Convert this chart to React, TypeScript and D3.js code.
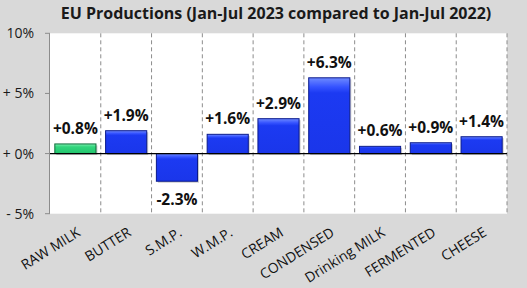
import React from "react";
import * as d3 from "d3";

const categories = ["RAW MILK", "BUTTER", "S.M.P.", "W.M.P.", "CREAM", "CONDENSED", "Drinking MILK", "FERMENTED", "CHEESE"];
const values = [0.8, 1.9, -2.3, 1.6, 2.9, 6.3, 0.6, 0.9, 1.4];
const valueLabels = ["+0.8%", "+1.9%", "-2.3%", "+1.6%", "+2.9%", "+6.3%", "+0.6%", "+0.9%", "+1.4%"];
const yTicks = [-5, 0, 5, 10];
const yTickLabels = ["- 5%", "+ 0%", "+ 5%", "10%"];
const title = "EU Productions (Jan-Jul 2023 compared to Jan-Jul 2022)";

const W = 527, H = 288;
const left = 50, right = 507, top = 33.3, bottom = 213.7;
const FONT = "'Open Sans', sans-serif";

export default function App() {
  const x = d3.scaleBand<string>().domain(categories).range([left, right]).paddingInner(0.19).paddingOuter(0.095);
  const xb = d3.scaleBand<string>().domain(categories).range([left, right]);
  const y = d3.scaleLinear().domain([-5, 10]).range([bottom, top]);
  return (
    <svg width={W} height={H} style={{ position: "absolute", left: 0, top: 0 }} fontFamily={FONT}>
      <defs>
        <linearGradient id="gBlue" x1="0" y1="0" x2="0" y2="1">
          <stop offset="0" stopColor="#6f8bff" />
          <stop offset="0.12" stopColor="#3553ff" />
          <stop offset="0.2" stopColor="#1c3af2" />
          <stop offset="1" stopColor="#1a36ea" />
        </linearGradient>
        <linearGradient id="gGreen" x1="0" y1="0" x2="0" y2="1">
          <stop offset="0" stopColor="#7ff0b0" />
          <stop offset="0.3" stopColor="#33d67e" />
          <stop offset="1" stopColor="#22c46c" />
        </linearGradient>
      </defs>
      <rect x={0} y={0} width={W} height={H} fill="#d9d9d9" />
      <rect x={left} y={top} width={right - left} height={bottom - top} fill="#ffffff" />
      {categories.map((c, i) => (
        <line key={"g" + i} x1={(xb(c) as number) + xb.bandwidth()} x2={(xb(c) as number) + xb.bandwidth()} y1={top} y2={bottom} stroke="#8c8c8c" strokeWidth={1} strokeDasharray="4,3" />
      ))}
      <text x={276} y={19} textAnchor="middle" fontWeight="bold" fontSize={16} fill="#1a1a1a">{title}</text>
      <line x1={left - 0.5} x2={left - 0.5} y1={top} y2={bottom} stroke="#8c8c8c" />
      {yTicks.map((t, i) => (
        <g key={"t" + i}>
          <line x1={left - 5} x2={left} y1={y(t)} y2={y(t)} stroke="#8c8c8c" />
          <text x={34} y={y(t) + 5} textAnchor="end" fontSize={14} fill="#1a1a1a">{yTickLabels[i]}</text>
        </g>
      ))}
      {categories.map((c, i) => {
        const v = values[i];
        const bx = x(c) as number;
        const bw = x.bandwidth();
        const y0 = y(0), y1 = y(v);
        const ry = Math.min(y0, y1), rh = Math.abs(y1 - y0);
        const green = i === 0;
        return (
          <g key={"b" + i}>
            <rect x={bx + 1.5} y={ry + 1.5} width={bw} height={rh} fill="#000" opacity={0.2} />
            <rect x={bx} y={ry} width={bw} height={rh} fill={green ? "url(#gGreen)" : "url(#gBlue)"} stroke={green ? "#0d6b3a" : "#0a1a8c"} strokeWidth={1} />
          </g>
        );
      })}
      <line x1={left} x2={right} y1={y(0)} y2={y(0)} stroke="#000" strokeWidth={1.3} />
      {categories.map((c, i) => {
        const v = values[i];
        const cx = (x(c) as number) + x.bandwidth() / 2;
        const ly = v >= 0 ? y(v) - 10 : y(v) + 24;
        return (
          <text key={"l" + i} x={cx} y={ly} textAnchor="middle" fontWeight="bold" fontSize={15.5} fill="#111">{valueLabels[i]}</text>
        );
      })}
      {categories.map((c, i) => {
        const cx = (xb(c) as number) + xb.bandwidth() / 2;
        return (
          <text key={"x" + i} transform={`translate(${cx + 6},${235}) rotate(-32)`} textAnchor="end" fontSize={14} fill="#111">{c}</text>
        );
      })}
    </svg>
  );
}
